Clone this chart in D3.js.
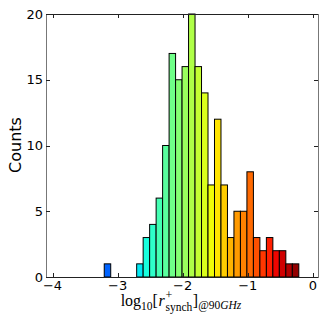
<!DOCTYPE html>
<html>
<head>
<meta charset="utf-8">
<script src="https://cdn.jsdelivr.net/npm/d3@7"></script>
<style>
	body { margin: 0; background: #fff; }
	svg { display: block; }
	text { font-family: "DejaVu Sans", sans-serif; }
</style>
</head>
<body>
<svg id="chart" width="327" height="327"></svg>
<script>
// histogram of log10 r_synch, 30 equal bins between binMin and binMax
var binMin = -3.205, binMax = -0.215;
var counts = [1, 0, 0, 0, 0, 1, 3, 4, 6, 10, 17, 15, 16, 20, 16, 14, 7, 12, 7, 3, 5, 5, 8, 3, 2, 3, 2, 2, 1, 1];
var xTicks = [-4, -3, -2, -1, 0];
var yTicks = [0, 5, 10, 15, 20];
// bin centres are coloured with jet normalised over this span
var colorSpan = [-4, -0.2];

var margin = { top: 14, right: 9, bottom: 50, left: 46 },
	width = 327,
	height = 327;

var svg = d3.select('#chart');

var x = d3.scaleLinear().domain([-4.1, 0.08]).range([margin.left, width - margin.right]);
var y = d3.scaleLinear().domain([0, 20]).range([height - margin.bottom, margin.top]);

// matplotlib jet, piecewise linear
function jet(t) {
	t = Math.max(0, Math.min(1, t));
	function seg(pts) {
		for (var i = 1; i < pts.length; i++) {
			if (t <= pts[i][0]) {
				var a = pts[i - 1], b = pts[i];
				return a[1] + (b[1] - a[1]) * (t - a[0]) / (b[0] - a[0]);
			}
		}
		return pts[pts.length - 1][1];
	}
	var r = seg([[0, 0], [0.35, 0], [0.66, 1], [0.89, 1], [1, 0.5]]);
	var g = seg([[0, 0], [0.125, 0], [0.375, 1], [0.64, 1], [0.91, 0], [1, 0]]);
	var b = seg([[0, 0.5], [0.11, 1], [0.34, 1], [0.65, 0], [1, 0]]);
	return d3.rgb(r * 255, g * 255, b * 255).toString();
}

var binW = (binMax - binMin) / counts.length;
var bins = counts.map(function (c, i) {
	return { x0: binMin + i * binW, x1: binMin + (i + 1) * binW, n: c };
});
var norm = d3.scaleLinear().domain(colorSpan).range([0, 1]);

svg.append('g').selectAll('rect')
	.data(bins.filter(function (d) { return d.n > 0; }))
	.enter().append('rect')
	.attr('x', function (d) { return x(d.x0); })
	.attr('width', function (d) { return x(d.x1) - x(d.x0); })
	.attr('y', function (d) { return y(d.n); })
	.attr('height', function (d) { return y(0) - y(d.n); })
	.attr('fill', function (d) { return jet(norm((d.x0 + d.x1) / 2)); })
	.attr('stroke', '#000')
	.attr('stroke-width', 1);

// frame
var L = x.range()[0], R = x.range()[1], T = y.range()[1], B = y.range()[0];
svg.append('line').attr('x1', L).attr('x2', R).attr('y1', T + 0.5).attr('y2', T + 0.5).attr('stroke', '#222');
svg.append('line').attr('x1', L).attr('x2', R).attr('y1', B + 0.5).attr('y2', B + 0.5).attr('stroke', '#222');
svg.append('line').attr('x1', L + 0.5).attr('x2', L + 0.5).attr('y1', T).attr('y2', B + 1).attr('stroke', '#777');
svg.append('line').attr('x1', R + 0.5).attr('x2', R + 0.5).attr('y1', T).attr('y2', B + 1).attr('stroke', '#777');

// inward ticks on all four sides
var tickLen = 4;
var ticks = svg.append('g').attr('stroke', '#222').attr('stroke-width', 1);
xTicks.forEach(function (v) {
	var px = Math.round(x(v)) + 0.5;
	ticks.append('line').attr('x1', px).attr('x2', px).attr('y1', B).attr('y2', B - tickLen);
	ticks.append('line').attr('x1', px).attr('x2', px).attr('y1', T).attr('y2', T + tickLen);
});
yTicks.forEach(function (v) {
	var py = Math.round(y(v)) + 0.5;
	ticks.append('line').attr('x1', L).attr('x2', L + tickLen).attr('y1', py).attr('y2', py);
	ticks.append('line').attr('x1', R).attr('x2', R - tickLen).attr('y1', py).attr('y2', py);
});

svg.append('g').selectAll('text')
	.data(xTicks).enter().append('text')
	.attr('x', function (d) { return x(d); })
	.attr('y', B + 13)
	.attr('text-anchor', 'middle')
	.attr('font-size', 13)
	.text(function (d) { return d < 0 ? '\u2212' + Math.abs(d) : d; });

svg.append('g').selectAll('text')
	.data(yTicks).enter().append('text')
	.attr('x', L - 3)
	.attr('y', function (d) { return y(d) + 4.5; })
	.attr('text-anchor', 'end')
	.attr('font-size', 13)
	.text(function (d) { return d; });

svg.append('text')
	.attr('transform', 'translate(21,145) rotate(-90)')
	.attr('text-anchor', 'middle')
	.attr('font-size', 16)
	.text('Counts');

// x label: log10[r^+_synch]@90GHz, laid out piece by piece
var lab = svg.append('g');
var base = 306, cx = 0;
function piece(txt, size, dy, italic) {
	var t = lab.append('text')
		.attr('x', cx).attr('y', base + dy)
		.attr('font-size', size)
		.style('font-family', '"Liberation Serif", "DejaVu Serif", serif')
		.attr('font-style', italic ? 'italic' : 'normal')
		.text(txt);
	return t.node().getComputedTextLength();
}
cx += piece('log', 16, 0, false);
cx += piece('10', 11.5, 4, false);
cx += piece('[', 16, 0, false) + 0.5;
cx += piece('r', 16, 0, true) + 0.8;
var wSup = piece('+', 12, -7, false);
var wSub = piece('synch', 11.5, 4.5, false);
cx += Math.max(wSup, wSub) + 0.5;
cx += piece(']', 16, 0, false);
cx += piece('@90', 11.5, 2.5, false);
cx += piece('GHz', 11.5, 2.5, true);
lab.attr('transform', 'translate(' + (181 - cx / 2) + ',0)');
</script>
</body>
</html>
